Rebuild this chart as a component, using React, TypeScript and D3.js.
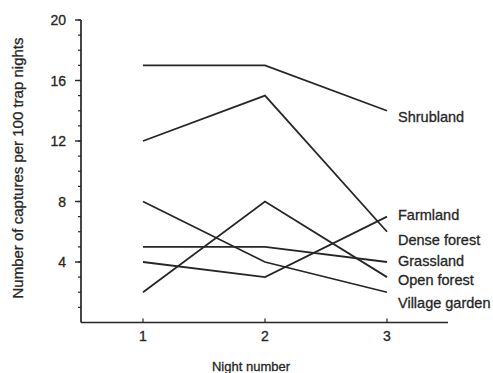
import React from "react";
import * as d3 from "d3";

const nights = [1, 2, 3];
const yTicks = [4, 8, 12, 16, 20];
const minorTicks = d3.range(1, 21);
const seriesNames = ["Shrubland", "Dense forest", "Farmland", "Open forest", "Village garden", "Grassland"];
const shrubland = [17, 17, 14];
const denseForest = [12, 15, 6];
const farmland = [4, 3, 7];
const openForest = [2, 8, 3];
const villageGarden = [8, 4, 2];
const grassland = [5, 5, 4];
const seriesValues = [shrubland, denseForest, farmland, openForest, villageGarden, grassland];
// label order and vertical label positions (values in data units)
const labelNames = ["Shrubland", "Farmland", "Dense forest", "Grassland", "Open forest", "Village garden"];
const labelLevels = [13.6, 7.1, 5.5, 4.1, 2.8, 1.3];

const W = 493;
const H = 373;
const FONT = "'Liberation Sans', Arial, Helvetica, sans-serif";
const INK = "#262626";
const TS = { stroke: INK, strokeWidth: 0.3 };

export default function App() {
  const x = d3.scaleLinear().domain([1, 3]).range([143, 387]);
  const y = d3.scaleLinear().domain([0, 20]).range([322.5, 20]);
  const axisX0 = 81;
  const axisX1 = 448;
  const line = d3
    .line<number>()
    .x((_, i) => x(nights[i]))
    .y((d) => y(d));

  return (
    <svg
      width={W}
      height={H}
      style={{ position: "absolute", left: 0, top: 0, background: "#fff" }}
      fontFamily={FONT}
    >
      <rect width={W} height={H} fill="#fff" />
      {/* y axis */}
      <line x1={axisX0} x2={axisX0} y1={y(20)} y2={y(0)} stroke={INK} strokeWidth={1.7} />
      {minorTicks.map((t) => (
        <line key={"m" + t} x1={axisX0 - 3} x2={axisX0} y1={y(t)} y2={y(t)} stroke={INK} strokeWidth={1.2} />
      ))}
      {yTicks.map((t) => (
        <g key={"y" + t}>
          <line x1={axisX0 - 6} x2={axisX0} y1={y(t)} y2={y(t)} stroke={INK} strokeWidth={1.4} />
          <text x={66} y={y(t)} dy="0.36em" textAnchor="end" fontSize={14} fill={INK} {...TS}>
            {t}
          </text>
        </g>
      ))}
      {/* x axis */}
      <line x1={axisX0} x2={axisX1} y1={y(0)} y2={y(0)} stroke={INK} strokeWidth={1.7} />
      {nights.map((n) => (
        <g key={"x" + n}>
          <line x1={x(n)} x2={x(n)} y1={y(0) - 4} y2={y(0)} stroke={INK} strokeWidth={1.2} />
          <text x={x(n)} y={336} dy="0.36em" textAnchor="middle" fontSize={14} fill={INK} {...TS}>
            {n}
          </text>
        </g>
      ))}
      {/* series */}
      {seriesValues.map((vals, i) => (
        <path key={seriesNames[i]} d={line(vals) || ""} fill="none" stroke={INK} strokeWidth={1.8} />
      ))}
      {labelNames.map((name, i) => (
        <text key={name} x={398} y={y(labelLevels[i])} dy="0.36em" fontSize={14.5} fill={INK} {...TS}>
          {name}
        </text>
      ))}
      {/* titles */}
      <text x={251} y={366} dy="0.36em" textAnchor="middle" fontSize={13} fill={INK} {...TS}>
        Night number
      </text>
      <text
        transform={`translate(18,168) rotate(-90)`}
        dy="0.36em"
        textAnchor="middle"
        fontSize={15}
        fill={INK}
        {...TS}
      >
        Number of captures per 100 trap nights
      </text>
    </svg>
  );
}
